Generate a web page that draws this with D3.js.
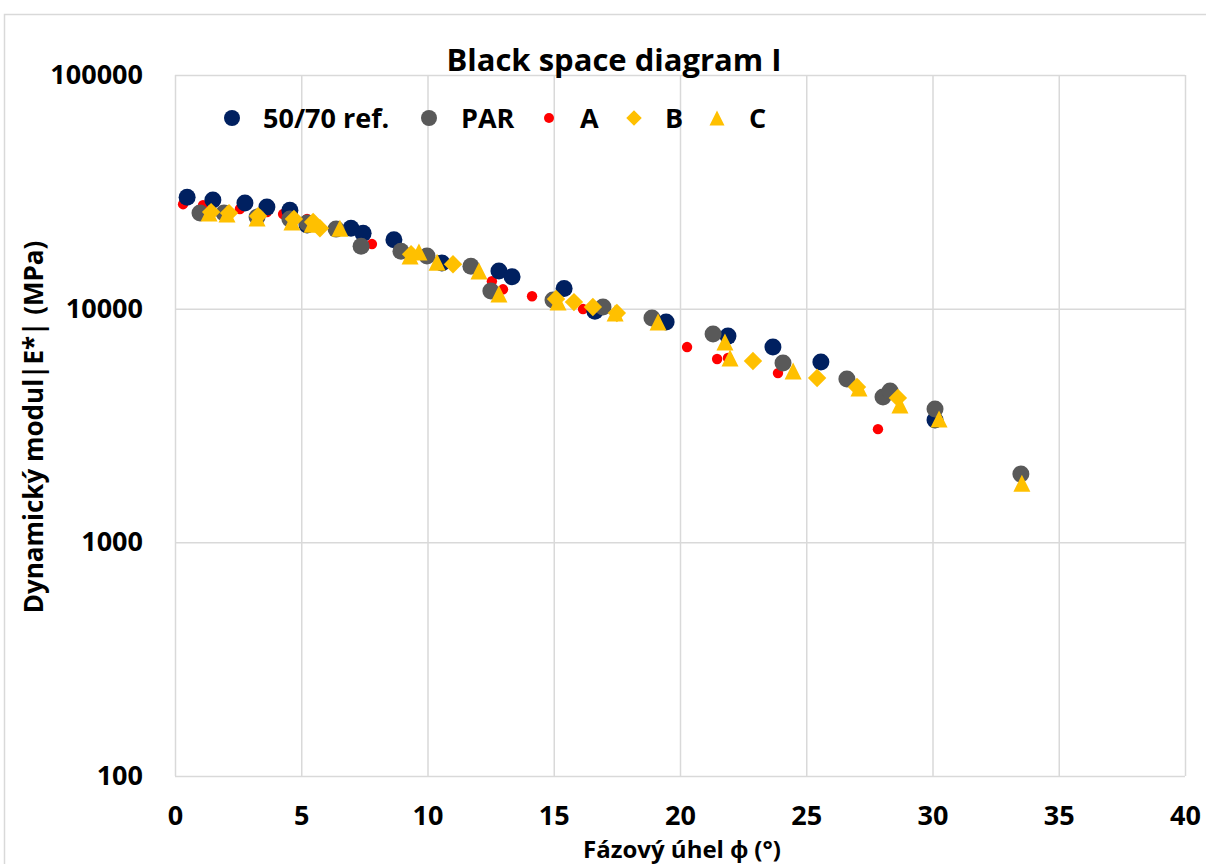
<!DOCTYPE html>
<html>
<head>
<meta charset="utf-8">
<script src="https://cdn.jsdelivr.net/npm/d3@7"></script>
<style>
body{margin:0;background:#fff}
svg{display:block;font-family:"Open Sans",sans-serif;font-weight:bold}
</style>
</head>
<body>
<svg id="chart" width="1206" height="864"></svg>
<script>

// data: phase angle (deg) / |E*| (MPa)
var refPhase   = [0.48, 1.50, 2.77, 3.64, 4.55, 5.23, 6.97, 7.45, 8.67, 10.57, 12.83, 13.35, 15.41, 16.63, 19.45, 21.90, 23.68, 25.58, 30.10];
var refModulus = [30000, 29200, 28300, 27200, 26400, 22800, 22100, 21000, 19700, 15700, 14500, 13700, 12200, 9760, 8770, 7630, 6850, 5910, 3340];

var parPhase   = [0.99, 1.94, 3.25, 4.55, 5.23, 6.38, 7.37, 8.95, 9.98, 11.72, 12.51, 14.97, 16.95, 18.89, 21.31, 24.08, 26.61, 28.04, 28.32, 30.10, 33.50];
var parModulus = [25650, 25650, 24660, 24180, 23250, 21900, 18500, 17600, 16800, 15200, 11900, 10900, 10160, 9120, 7790, 5850, 5000, 4190, 4440, 3720, 1960];

var aPhase   = [0.32, 1.11, 2.57, 3.64, 4.28, 5.23, 7.80, 12.55, 12.99, 14.14, 16.16, 20.28, 21.47, 21.90, 23.88, 27.84];
var aModulus = [28000, 27700, 26700, 25900, 25400, 24200, 18900, 13100, 12100, 11300, 9960, 6850, 6090, 6150, 5300, 3050];

var bPhase   = [1.43, 2.14, 3.29, 4.71, 5.47, 5.74, 9.35, 11.01, 15.09, 15.80, 16.55, 17.50, 22.89, 25.43, 27.01, 28.63];
var bModulus = [25900, 25650, 24900, 24180, 23480, 22100, 17100, 15500, 11000, 10670, 10160, 9580, 5970, 5050, 4620, 4150];

var cPhase   = [1.35, 2.06, 3.25, 4.63, 5.43, 6.53, 9.31, 9.66, 10.38, 12.04, 12.83, 15.17, 17.43, 19.13, 21.78, 21.98, 24.48, 27.09, 28.71, 30.26, 33.54];
var cModulus = [25650, 25400, 24420, 23480, 23000, 22100, 16800, 17500, 15800, 14500, 11550, 10670, 9580, 8770, 7200, 6150, 5410, 4580, 3870, 3370, 1790];

var seriesNames = ["50/70 ref.", "PAR", "A", "B", "C"];
var xTicks = [0, 5, 10, 15, 20, 25, 30, 35, 40];
var yTicks = [100, 1000, 10000, 100000];

var svg = d3.select('#chart');

var plotLeft = 175, plotRight = 1185, plotTop = 75, plotBottom = 776;

var x = d3.scaleLinear().domain([0, 40]).range([plotLeft, plotRight]);
var y = d3.scaleLog().domain([100, 100000]).range([plotBottom, plotTop]);

// outer chart frame
svg.append('rect')
  .attr('x', 4.5).attr('y', 14.5)
  .attr('width', 1220).attr('height', 870)
  .attr('fill', 'none')
  .attr('stroke', '#d9d9d9')
  .attr('stroke-width', 1.5);

// gridlines + tick labels
var gx = svg.append('g')
  .attr('transform', 'translate(0,' + plotBottom + ')')
  .call(d3.axisBottom(x).tickValues(xTicks).tickSize(-(plotBottom - plotTop)).tickPadding(30).tickFormat(d3.format('d')));

var gy = svg.append('g')
  .attr('transform', 'translate(' + plotLeft + ',0)')
  .call(d3.axisLeft(y).tickValues(yTicks).tickSize(-(plotRight - plotLeft)).tickPadding(32).tickFormat(d3.format('d')));

[gx, gy].forEach(function(g){
  g.select('.domain').remove();
  g.selectAll('.tick line').attr('stroke', '#d9d9d9').attr('stroke-width', 1.5);
  g.selectAll('.tick text')
    .attr('fill', '#000')
    .style('font-family', '"Open Sans",sans-serif')
    .style('font-weight', 'bold')
    .style('font-size', '27px');
});

// markers
function triangle(s){
  return 'M0,' + (-s/2) + 'L' + (s/2) + ',' + (s/2) + 'L' + (-s/2) + ',' + (s/2) + 'Z';
}
var circleBig = d3.symbol().type(d3.symbolCircle).size(Math.PI * 8.5 * 8.5);
var circleSmall = d3.symbol().type(d3.symbolCircle).size(Math.PI * 5.2 * 5.2);
var diamond = d3.symbol().type(d3.symbolSquare).size(13 * 13);

var series = [
  {name: seriesNames[2], phase: aPhase,   mod: aModulus,   color: '#ff0000', path: function(){ return circleSmall(); }, rot: 0},
  {name: seriesNames[0], phase: refPhase, mod: refModulus, color: '#002060', path: function(){ return circleBig(); }, rot: 0},
  {name: seriesNames[1], phase: parPhase, mod: parModulus, color: '#595959', path: function(){ return circleBig(); }, rot: 0},
  {name: seriesNames[3], phase: bPhase,   mod: bModulus,   color: '#ffc000', path: function(){ return diamond(); }, rot: 45},
  {name: seriesNames[4], phase: cPhase,   mod: cModulus,   color: '#ffc000', path: function(){ return triangle(17); }, rot: 0}
];

series.forEach(function(s){
  svg.append('g').selectAll('path')
    .data(d3.range(s.phase.length))
    .join('path')
    .attr('d', s.path)
    .attr('fill', s.color)
    .attr('transform', function(i){
      return 'translate(' + x(s.phase[i]) + ',' + y(s.mod[i]) + ') rotate(' + s.rot + ')';
    });
});

// title
svg.append('text')
  .attr('x', 614).attr('y', 71)
  .attr('text-anchor', 'middle')
  .style('font-size', '31px')
  .text('Black space diagram I');

// legend
var legendItems = [
  {label: seriesNames[0], mx: 232, tx: 263, color: '#002060', d: d3.symbol().type(d3.symbolCircle).size(Math.PI * 64)(), rot: 0},
  {label: seriesNames[1], mx: 429, tx: 461, color: '#595959', d: d3.symbol().type(d3.symbolCircle).size(Math.PI * 64)(), rot: 0},
  {label: seriesNames[2], mx: 549, tx: 580, color: '#ff0000', d: d3.symbol().type(d3.symbolCircle).size(Math.PI * 25)(), rot: 0},
  {label: seriesNames[3], mx: 634, tx: 665, color: '#ffc000', d: d3.symbol().type(d3.symbolSquare).size(11 * 11)(), rot: 45},
  {label: seriesNames[4], mx: 717, tx: 749, color: '#ffc000', d: triangle(15), rot: 0}
];
var legendY = 118;
var lg = svg.append('g');
legendItems.forEach(function(it){
  lg.append('path')
    .attr('d', it.d)
    .attr('fill', it.color)
    .attr('transform', 'translate(' + it.mx + ',' + legendY + ') rotate(' + it.rot + ')');
  lg.append('text')
    .attr('x', it.tx).attr('y', legendY + 10)
    .style('font-size', '27px')
    .text(it.label);
});

// axis titles
svg.append('text')
  .attr('x', 682).attr('y', 858)
  .attr('text-anchor', 'middle')
  .style('font-size', '24px')
  .text('Fázový úhel ϕ (°)');

svg.append('text')
  .attr('transform', 'translate(43,427) rotate(-90)')
  .attr('text-anchor', 'middle')
  .style('font-size', '26px')
  .text('Dynamický modul|E*| (MPa)');

</script>
</body>
</html>
